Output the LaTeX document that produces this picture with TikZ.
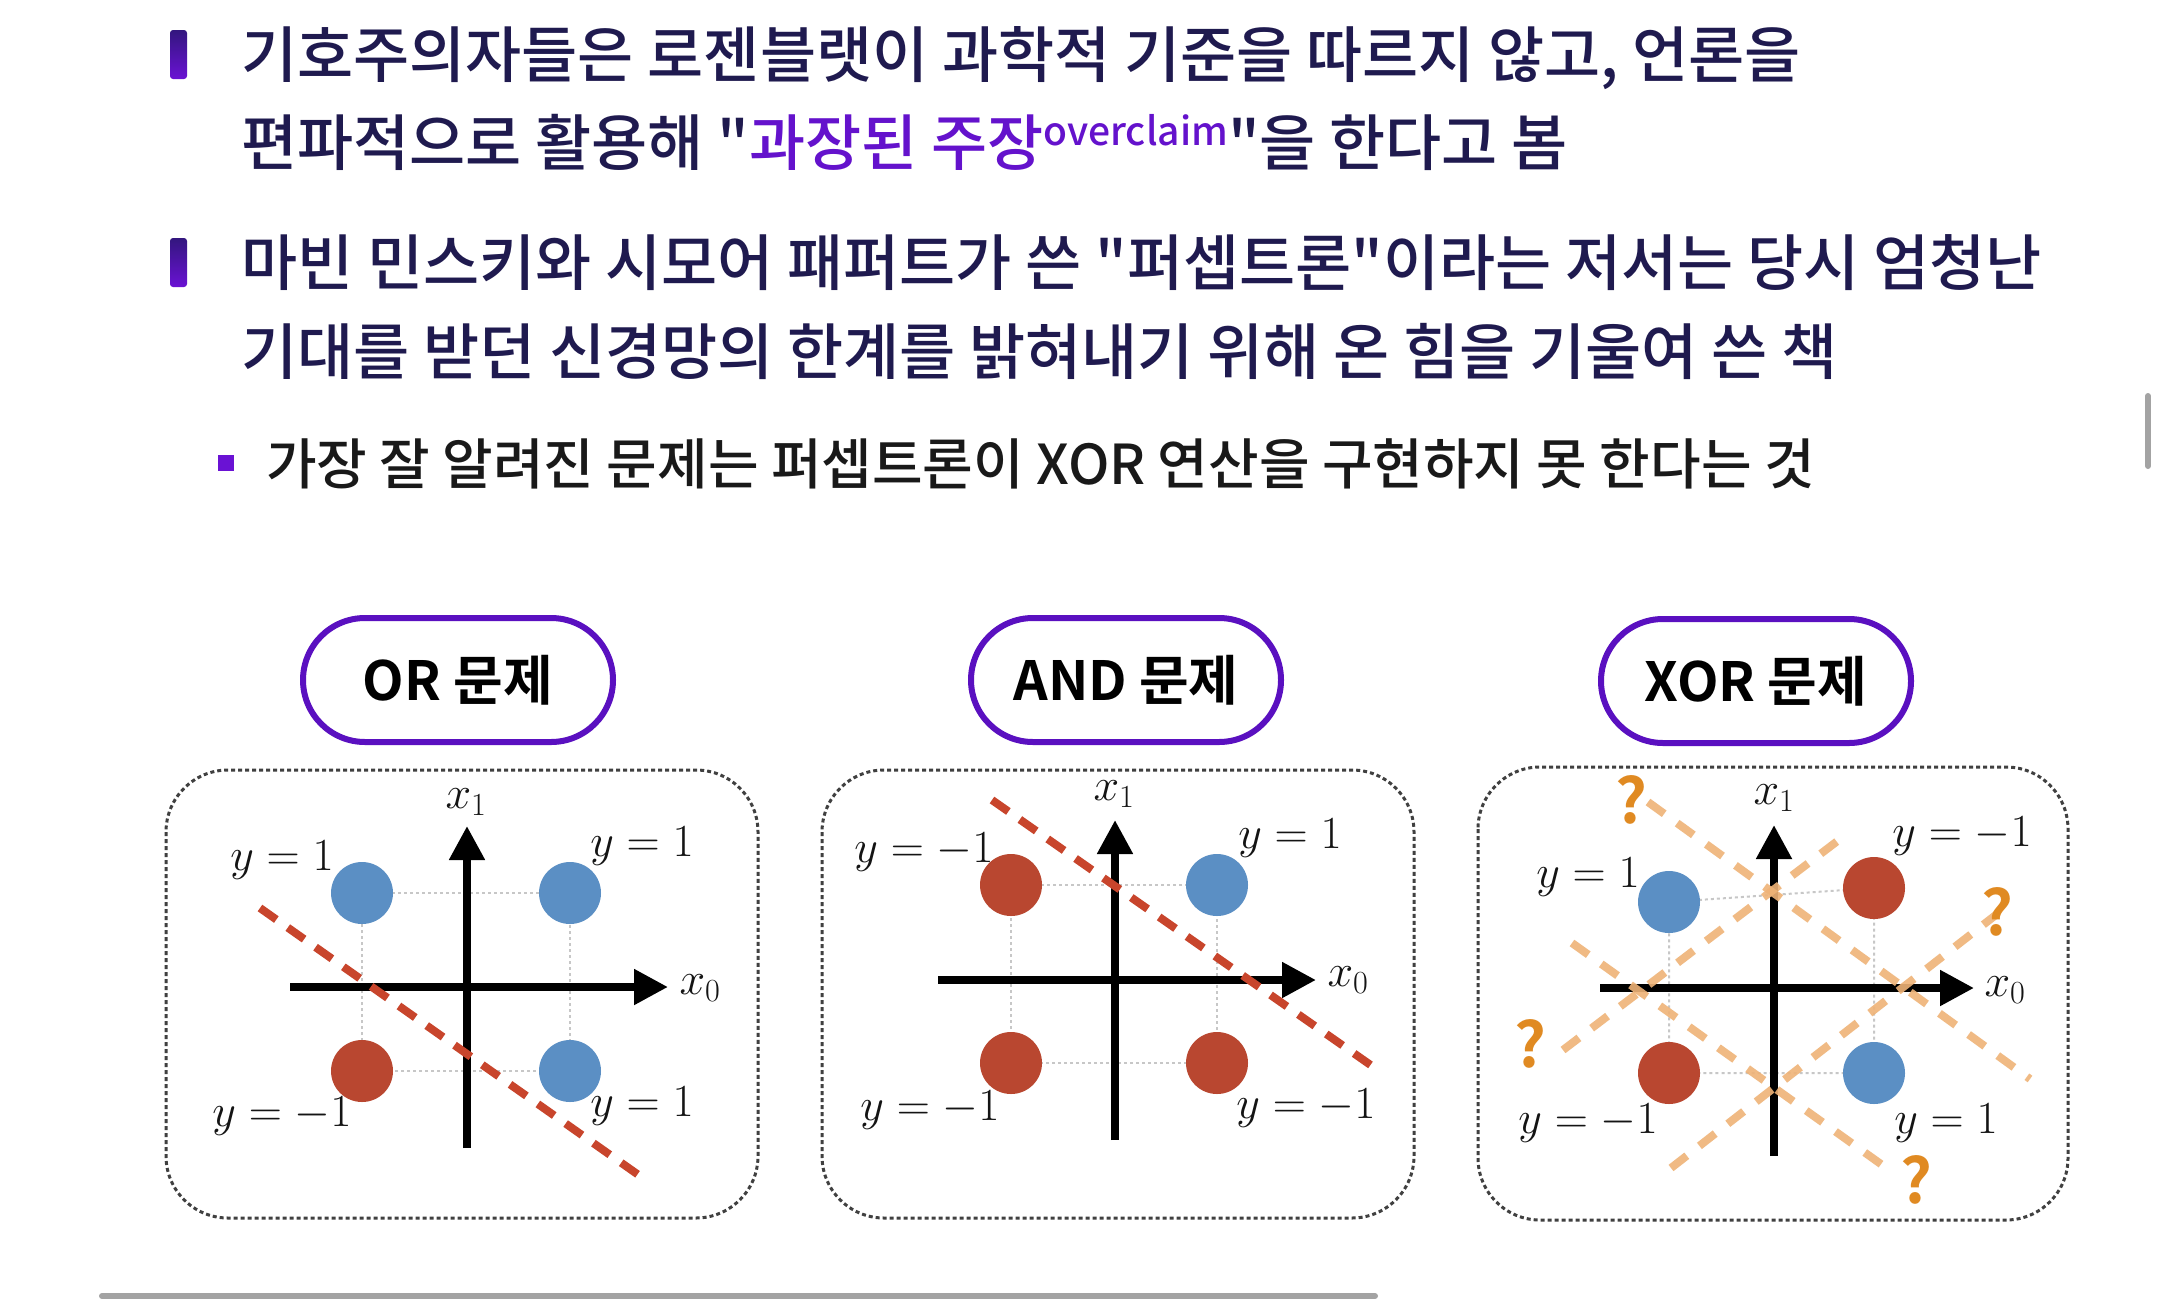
\RequirePackage{fix-cm}
\documentclass[tikz,border=0pt]{standalone}
\usepackage[no-math]{fontspec}
\setmainfont{Noto Sans CJK KR Medium}[Ligatures=TeXOff]
\newfontfamily\qfont{Noto Sans CJK KR Bold}[Ligatures=TeXOff]
\usetikzlibrary{arrows.meta}
\definecolor{navy}{HTML}{1F1A4F}
\definecolor{hl}{HTML}{6412CC}
\definecolor{pillc}{HTML}{5A10C0}
\definecolor{dotblue}{HTML}{5B8FC4}
\definecolor{dotred}{HTML}{B94730}
\definecolor{sepred}{HTML}{C8452C}
\definecolor{guess}{HTML}{EFB377}
\definecolor{qmark}{HTML}{E08A22}
\definecolor{barA}{HTML}{33167E}
\definecolor{barB}{HTML}{6A12D4}
\definecolor{scroll}{HTML}{A3A3A3}
\tikzset{
  mainline/.style={anchor=base west, inner sep=0pt, text=navy, font=\fontsize{61}{72}\selectfont},
  subline/.style={anchor=base west, inner sep=0pt, text=black!90, font=\fontsize{55}{64}\selectfont},
  pill/.style={draw=pillc, line width=6pt, rounded corners=62pt, minimum width=310pt, minimum height=124pt, inner sep=0pt, font=\fontsize{54}{66}\qfont, text=black},
  panel/.style={draw=black!75, line width=3pt, dash pattern=on 4pt off 3pt, rounded corners=62pt},
  axis/.style={line width=8pt, -{Triangle[length=34pt,width=34pt]}},
  blob/.style={circle, inner sep=0pt, minimum size=62pt},
  posdot/.style={blob, fill=dotblue},
  negdot/.style={blob, fill=dotred},
  gridl/.style={draw=black!22, line width=2pt, dash pattern=on 3pt off 3pt},
  sepline/.style={draw=sepred, line width=8pt, dash pattern=on 20pt off 14pt},
  guessline/.style={draw=guess, line width=8pt, dash pattern=on 20pt off 16pt, opacity=0.9},
  lab/.style={inner sep=0pt, text=black!92, font=\fontsize{46}{50}\selectfont},
  qlab/.style={inner sep=0pt, text=qmark, font=\fontsize{62}{66}\qfont},
  scrollbar/.style={draw=scroll, line width=6pt, line cap=round},
}
\begin{document}
\begin{tikzpicture}[x=1pt,y=-1pt]
\useasboundingbox[fill=white] (0,0) rectangle (2160,1304);

% ---------- bullets and text ----------
\shade[top color=barA, bottom color=barB, rounded corners=3pt] (170,30) rectangle (187,79);
\shade[top color=barA, bottom color=barB, rounded corners=3pt] (170,238) rectangle (187,287);
\fill[barB] (218,455) rectangle (234,471);

\node[mainline] (l1) at (241,77) {기호주의자들은 로젠블랫이 과학적 기준을 따르지 않고, 언론을};
\node[mainline] (l2) at (241,165) {편파적으로 활용해 "{\color{hl}과장된 주장\raisebox{20pt}{\fontsize{39}{44}\selectfont overclaim}}"을 한다고 봄};
\node[mainline] (l3) at (241,285) {마빈 민스키와 시모어 패퍼트가 쓴 "퍼셉트론"이라는 저서는 당시 엄청난};
\node[mainline] (l4) at (241,374) {기대를 받던 신경망의 한계를 밝혀내기 위해 온 힘을 기울여 쓴 책};
\node[subline] (l5) at (266,484) {가장 잘 알려진 문제는 퍼셉트론이 XOR 연산을 구현하지 못 한다는 것};

% ---------- pills ----------
\node[pill] (p-or) at (458,680) {OR 문제};
\node[pill] (p-and) at (1126,680) {AND 문제};
\node[pill] (p-xor) at (1756,681) {XOR 문제};

% ---------- panels ----------
\draw[panel] (166,770) rectangle (758,1218);
\draw[panel] (822,770) rectangle (1414,1218);
\draw[panel] (1478,767) rectangle (2068,1220);

% ===== OR =====
\coordinate (or-tlc) at (362,893); \coordinate (or-trc) at (570,893);
\coordinate (or-blc) at (362,1071); \coordinate (or-brc) at (570,1071);
\draw[gridl] (or-tlc) -- (or-trc) -- (or-brc) -- (or-blc) -- cycle;
\coordinate (or-xs) at (290,987); \coordinate (or-xe) at (668,987);
\coordinate (or-ys) at (467,1148); \coordinate (or-ye) at (467,826);
\draw[axis] (or-xs) -- (or-xe);
\draw[axis] (or-ys) -- (or-ye);
\node[posdot] (or-tl) at (or-tlc) {};
\node[posdot] (or-tr) at (or-trc) {};
\node[negdot] (or-bl) at (or-blc) {};
\node[posdot] (or-br) at (or-brc) {};
\coordinate (or-sa) at (260,908); \coordinate (or-sb) at (640,1176);
\draw[sepline] (or-sa) -- (or-sb);
\node[lab] (or-x1) at (466,802) {$x_1$};
\node[lab] (or-x0) at (700,988) {$x_0$};
\node[lab] (or-ltl) at (282,860) {$y=1$};
\node[lab] (or-ltr) at (642,846) {$y=1$};
\node[lab] (or-lbl) at (282,1116) {$y=-1$};
\node[lab] (or-lbr) at (642,1106) {$y=1$};

% ===== AND =====
\coordinate (and-tlc) at (1011,885); \coordinate (and-trc) at (1217,885);
\coordinate (and-blc) at (1011,1063); \coordinate (and-brc) at (1217,1063);
\draw[gridl] (and-tlc) -- (and-trc) -- (and-brc) -- (and-blc) -- cycle;
\coordinate (and-xs) at (938,980); \coordinate (and-xe) at (1316,980);
\coordinate (and-ys) at (1115,1140); \coordinate (and-ye) at (1115,820);
\draw[axis] (and-xs) -- (and-xe);
\draw[axis] (and-ys) -- (and-ye);
\node[negdot] (and-tl) at (and-tlc) {};
\node[posdot] (and-tr) at (and-trc) {};
\node[negdot] (and-bl) at (and-blc) {};
\node[negdot] (and-br) at (and-brc) {};
\coordinate (and-sa) at (992,800); \coordinate (and-sb) at (1372,1066);
\draw[sepline] (and-sa) -- (and-sb);
\node[lab] (and-x1) at (1114,794) {$x_1$};
\node[lab] (and-x0) at (1348,980) {$x_0$};
\node[lab] (and-ltl) at (924,852) {$y=-1$};
\node[lab] (and-ltr) at (1290,838) {$y=1$};
\node[lab] (and-lbl) at (930,1110) {$y=-1$};
\node[lab] (and-lbr) at (1306,1108) {$y=-1$};

% ===== XOR =====
\coordinate (xor-tlc) at (1669,902); \coordinate (xor-trc) at (1874,888);
\coordinate (xor-blc) at (1669,1073); \coordinate (xor-brc) at (1874,1073);
\draw[gridl] (xor-tlc) -- (xor-trc) -- (xor-brc) -- (xor-blc) -- cycle;
\coordinate (xor-xs) at (1600,988); \coordinate (xor-xe) at (1974,988);
\coordinate (xor-ys) at (1774,1156); \coordinate (xor-ye) at (1774,825);
\draw[axis] (xor-xs) -- (xor-xe);
\draw[axis] (xor-ys) -- (xor-ye);
\node[posdot] (xor-tl) at (xor-tlc) {};
\node[negdot] (xor-tr) at (xor-trc) {};
\node[negdot] (xor-bl) at (xor-blc) {};
\node[posdot] (xor-br) at (xor-brc) {};
\coordinate (xor-g1a) at (1648,802); \coordinate (xor-g1b) at (2030,1079);
\coordinate (xor-g2a) at (1572,943); \coordinate (xor-g2b) at (1892,1172);
\coordinate (xor-g3a) at (1563,1050); \coordinate (xor-g3b) at (1844,836);
\coordinate (xor-g4a) at (1671,1168); \coordinate (xor-g4b) at (1997,914);
\draw[guessline] (xor-g1a) -- (xor-g1b);
\draw[guessline] (xor-g2a) -- (xor-g2b);
\draw[guessline] (xor-g3a) -- (xor-g3b);
\draw[guessline] (xor-g4a) -- (xor-g4b);
\node[qlab] (xor-q1) at (1631,800) {?};
\node[qlab] (xor-q2) at (1997,912) {?};
\node[qlab] (xor-q3) at (1530,1044) {?};
\node[qlab] (xor-q4) at (1916,1180) {?};
\node[lab] (xor-x1) at (1774,798) {$x_1$};
\node[lab] (xor-x0) at (2005,990) {$x_0$};
\node[lab] (xor-ltl) at (1588,877) {$y=1$};
\node[lab] (xor-ltr) at (1962,836) {$y=-1$};
\node[lab] (xor-lbl) at (1588,1123) {$y=-1$};
\node[lab] (xor-lbr) at (1946,1123) {$y=1$};

% ---------- scrollbars ----------
\coordinate (sb1a) at (102,1296); \coordinate (sb1b) at (1375,1296);
\draw[scrollbar] (sb1a) -- (sb1b);
\coordinate (sb2a) at (2148,396); \coordinate (sb2b) at (2148,466);
\draw[scrollbar] (sb2a) -- (sb2b);
\end{tikzpicture}
\end{document}
